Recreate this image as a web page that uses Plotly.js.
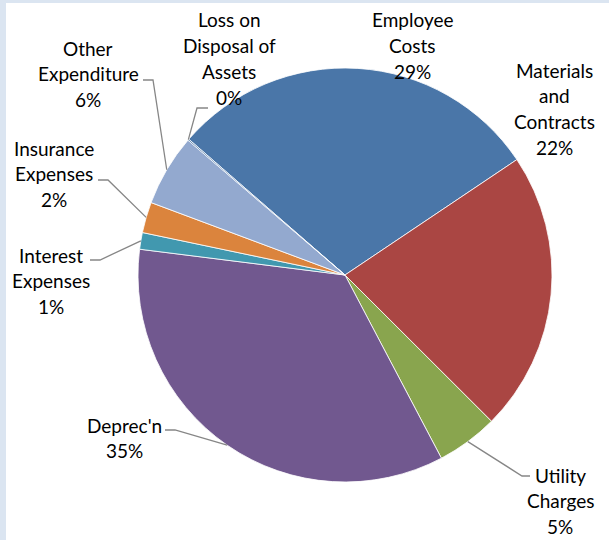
<!DOCTYPE html>
<html>
<head>
<meta charset="utf-8">
<script src="https://cdn.plot.ly/plotly-3.0.1.min.js"></script>
<style>
html,body{margin:0;padding:0;background:#fff;}
#chart{width:609px;height:540px;}
</style>
</head>
<body>
<div id="chart"></div>
<script>
// ---- data ----
const categories = ["Employee Costs", "Materials and Contracts", "Utility Charges", "Deprec'n",
                    "Interest Expenses", "Insurance Expenses", "Other Expenditure", "Loss on Disposal of Assets"];
const labelLines = [["Employee", "Costs"], ["Materials", "and", "Contracts"], ["Utility", "Charges"], ["Deprec'n"],
                    ["Interest", "Expenses"], ["Insurance", "Expenses"], ["Other", "Expenditure"], ["Loss on", "Disposal of", "Assets"]];
const values = [29.2, 21.9, 4.8, 34.7, 1.3, 2.4, 5.6, 0.1];
const colors = ["#4a76a8", "#aa4643", "#89a54e", "#71588f", "#4198af", "#db843d", "#93a9cf", "#4a76a8"];

// ---- layout config (pixels) ----
const W = 609, H = 540;
const cx = 345, cy = 275, R = 207;
const startDeg = -49;
// label centre (x, y of first line) and leader line start [x1,y1,x2,y2] (null = no leader)
const labelPos = [
  {x: 413, y: 20, leader: null},
  {x: 554, y: 70, leader: null},
  {x: 560, y: 475, leader: [530, 476, 522, 476]},
  {x: 124, y: 425, leader: [165, 430, 175, 430]},
  {x: 51,  y: 255, leader: [90, 260, 100, 260]},
  {x: 54,  y: 148, leader: [98, 180, 108, 180]},
  {x: 88,  y: 48,  leader: [143, 80, 153, 80]},
  {x: 229, y: 20,  leader: [208, 108, 197, 108]}
];
const lineH = 25.8;

const total = values.reduce((a, b) => a + b, 0);
const px = x => x / W, py = y => 1 - y / H;

const annotations = [];
const shapes = [];
let acc = 0;
values.forEach((v, i) => {
  const mid = (startDeg + (acc + v / 2) / total * 360) * Math.PI / 180;
  acc += v;
  const ex = cx + R * Math.sin(mid), ey = cy - R * Math.cos(mid);
  const pct = Math.round(v / total * 100) + '%';
  const lines = labelLines[i].concat([pct]);
  const lp = labelPos[i];
  lines.forEach((t, k) => {
    annotations.push({
      xref: 'paper', yref: 'paper', x: px(lp.x), y: py(lp.y + k * lineH),
      text: t, showarrow: false, xanchor: 'center', yanchor: 'middle',
      font: {family: 'Lato, "Open Sans", sans-serif', size: 19, color: '#000'}
    });
  });
  if (lp.leader) {
    const [x1, y1, x2, y2] = lp.leader;
    shapes.push({
      type: 'path', xref: 'paper', yref: 'paper',
      path: `M ${px(x1)} ${py(y1)} L ${px(x2)} ${py(y2)} L ${px(ex)} ${py(ey)}`,
      line: {color: '#868686', width: 1.3}
    });
  }
});

// border strips
shapes.push({type: 'rect', xref: 'paper', yref: 'paper', x0: 0, x1: 1, y0: py(3), y1: 1, fillcolor: '#dbe5f1', line: {width: 0}, layer: 'below'});
shapes.push({type: 'rect', xref: 'paper', yref: 'paper', x0: 0, x1: px(6), y0: 0, y1: 1, fillcolor: '#dbe5f1', line: {width: 0}, layer: 'below'});

const trace = {
  type: 'pie',
  labels: categories,
  values: values,
  sort: false,
  direction: 'clockwise',
  rotation: startDeg,
  textinfo: 'none',
  hoverinfo: 'none',
  marker: {colors: colors, line: {color: '#ffffff', width: 0.8}},
  domain: {x: [px(cx - R), px(cx + R)], y: [py(cy + R), py(cy - R)]},
  showlegend: false
};

Plotly.newPlot('chart', [trace], {
  width: W, height: H,
  margin: {l: 0, r: 0, t: 0, b: 0},
  paper_bgcolor: '#ffffff',
  showlegend: false,
  annotations: annotations,
  shapes: shapes
}, {staticPlot: true});
</script>
</body>
</html>
